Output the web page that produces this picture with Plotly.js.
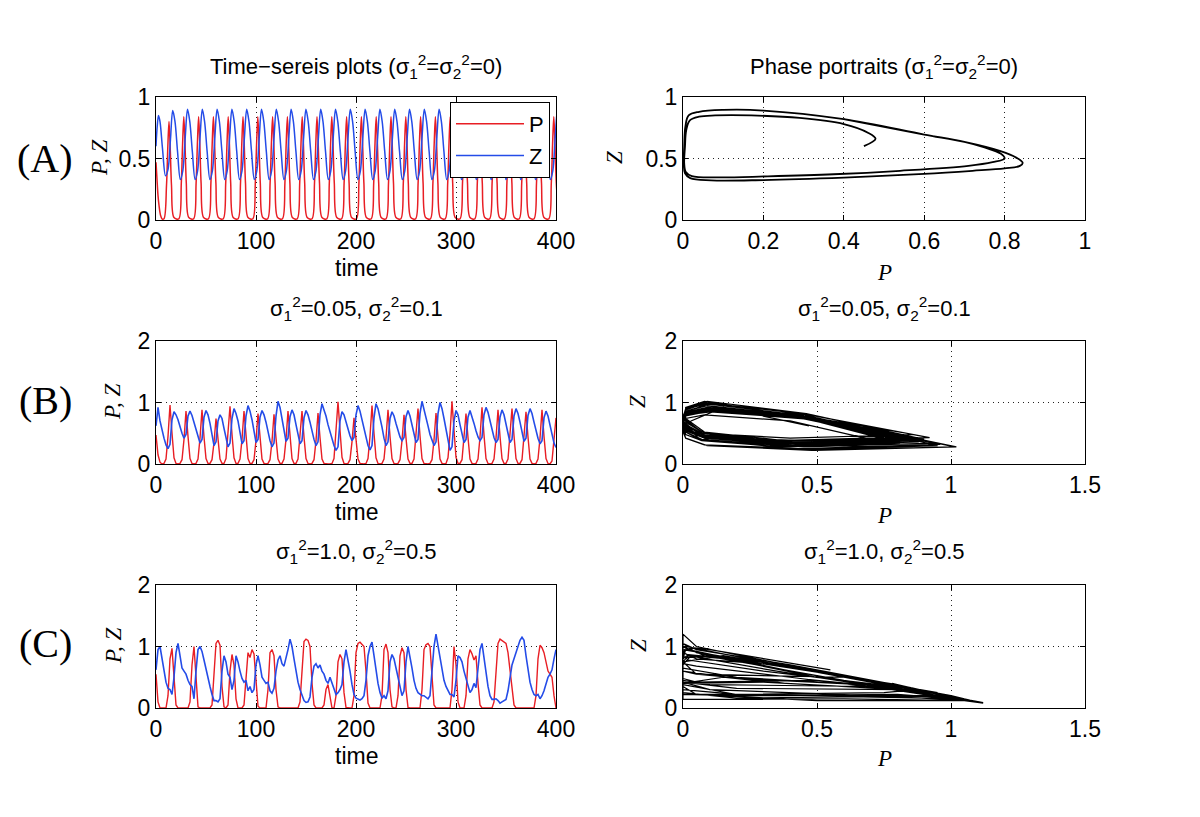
<!DOCTYPE html>
<html><head><meta charset="utf-8">
<script src="https://cdn.plot.ly/plotly-3.0.1.min.js"></script>
<style>html,body{margin:0;padding:0;background:#fff}#chart{width:1200px;height:817px}</style>
</head><body><div id="chart"></div>
<script>
// ---------- Panel A (deterministic) time series ----------
const aTimeP = [0, 1, 2, 3, 4.5, 6,
 8, 10.5, 11.8, 13, 14.2, 15.5, 18,
 22.8, 25.3, 26.6, 27.8, 29, 30.3, 32.8,
 37.6, 40.1, 41.4, 42.6, 43.8, 45.1, 47.6,
 52.4, 54.9, 56.2, 57.4, 58.6, 59.9, 62.4,
 67.2, 69.7, 71, 72.2, 73.4, 74.7, 77.2,
 82, 84.5, 85.8, 87, 88.2, 89.5, 92,
 96.8, 99.3, 100.6, 101.8, 103, 104.3, 106.8,
 111.6, 114.1, 115.4, 116.6, 117.8, 119.1, 121.6,
 126.4, 128.9, 130.2, 131.4, 132.6, 133.9, 136.4,
 141.2, 143.7, 145, 146.2, 147.4, 148.7, 151.2,
 156, 158.5, 159.8, 161, 162.2, 163.5, 166,
 170.8, 173.3, 174.6, 175.8, 177, 178.3, 180.8,
 185.6, 188.1, 189.4, 190.6, 191.8, 193.1, 195.6,
 200.4, 202.9, 204.2, 205.4, 206.6, 207.9, 210.4,
 215.2, 217.7, 219, 220.2, 221.4, 222.7, 225.2,
 230, 232.5, 233.8, 235, 236.2, 237.5, 240,
 244.8, 247.3, 248.6, 249.8, 251, 252.3, 254.8,
 259.6, 262.1, 263.4, 264.6, 265.8, 267.1, 269.6,
 274.4, 276.9, 278.2, 279.4, 280.6, 281.9, 284.4,
 289.2, 291.7, 293, 294.2, 295.4, 296.7, 299.2,
 304, 306.5, 307.8, 309, 310.2, 311.5, 314,
 318.8, 321.3, 322.6, 323.8, 325, 326.3, 328.8,
 333.6, 336.1, 337.4, 338.6, 339.8, 341.1, 343.6,
 348.4, 350.9, 352.2, 353.4, 354.6, 355.9, 358.4,
 363.2, 365.7, 367, 368.2, 369.4, 370.7, 373.2,
 378, 380.5, 381.8, 383, 384.2, 385.5, 388,
 392.8, 395.3, 396.6, 397.8, 399, 400.3, 402.8];
const aValP = [0.47, 0.33, 0.20, 0.12, 0.04, 0.01,
 0.01, 0.28, 0.59, 0.80, 0.59, 0.28, 0.02,
 0.01, 0.30, 0.62, 0.84, 0.62, 0.30, 0.02,
 0.01, 0.30, 0.62, 0.84, 0.62, 0.30, 0.02,
 0.01, 0.30, 0.62, 0.84, 0.62, 0.30, 0.02,
 0.01, 0.30, 0.62, 0.84, 0.62, 0.30, 0.02,
 0.01, 0.30, 0.62, 0.84, 0.62, 0.30, 0.02,
 0.01, 0.30, 0.62, 0.84, 0.62, 0.30, 0.02,
 0.01, 0.30, 0.62, 0.84, 0.62, 0.30, 0.02,
 0.01, 0.30, 0.62, 0.84, 0.62, 0.30, 0.02,
 0.01, 0.30, 0.62, 0.84, 0.62, 0.30, 0.02,
 0.01, 0.30, 0.62, 0.84, 0.62, 0.30, 0.02,
 0.01, 0.30, 0.62, 0.84, 0.62, 0.30, 0.02,
 0.01, 0.30, 0.62, 0.84, 0.62, 0.30, 0.02,
 0.01, 0.30, 0.62, 0.84, 0.62, 0.30, 0.02,
 0.01, 0.30, 0.62, 0.84, 0.62, 0.30, 0.02,
 0.01, 0.30, 0.62, 0.84, 0.62, 0.30, 0.02,
 0.01, 0.30, 0.62, 0.84, 0.62, 0.30, 0.02,
 0.01, 0.30, 0.62, 0.84, 0.62, 0.30, 0.02,
 0.01, 0.30, 0.62, 0.84, 0.62, 0.30, 0.02,
 0.01, 0.30, 0.62, 0.84, 0.62, 0.30, 0.02,
 0.01, 0.30, 0.62, 0.84, 0.62, 0.30, 0.02,
 0.01, 0.30, 0.62, 0.84, 0.62, 0.30, 0.02,
 0.01, 0.30, 0.62, 0.84, 0.62, 0.30, 0.02,
 0.01, 0.30, 0.62, 0.84, 0.62, 0.30, 0.02,
 0.01, 0.30, 0.62, 0.84, 0.62, 0.30, 0.02,
 0.01, 0.30, 0.62, 0.84, 0.62, 0.30, 0.02,
 0.01, 0.30, 0.62, 0.84, 0.62, 0.30, 0.02];
const aTimeZ = [0, 1.2, 2.5, 4, 6.5,
 9.5, 12, 14.5, 16.7, 19, 21.5,
 24.3, 26.8, 29.3, 31.5, 33.8, 36.3,
 39.1, 41.6, 44.1, 46.3, 48.6, 51.1,
 53.9, 56.4, 58.9, 61.1, 63.4, 65.9,
 68.7, 71.2, 73.7, 75.9, 78.2, 80.7,
 83.5, 86, 88.5, 90.7, 93, 95.5,
 98.3, 100.8, 103.3, 105.5, 107.8, 110.3,
 113.1, 115.6, 118.1, 120.3, 122.6, 125.1,
 127.9, 130.4, 132.9, 135.1, 137.4, 139.9,
 142.7, 145.2, 147.7, 149.9, 152.2, 154.7,
 157.5, 160, 162.5, 164.7, 167, 169.5,
 172.3, 174.8, 177.3, 179.5, 181.8, 184.3,
 187.1, 189.6, 192.1, 194.3, 196.6, 199.1,
 201.9, 204.4, 206.9, 209.1, 211.4, 213.9,
 216.7, 219.2, 221.7, 223.9, 226.2, 228.7,
 231.5, 234, 236.5, 238.7, 241, 243.5,
 246.3, 248.8, 251.3, 253.5, 255.8, 258.3,
 261.1, 263.6, 266.1, 268.3, 270.6, 273.1,
 275.9, 278.4, 280.9, 283.1, 285.4, 287.9,
 290.7, 293.2, 295.7, 297.9, 300.2, 302.7,
 305.5, 308, 310.5, 312.7, 315, 317.5,
 320.3, 322.8, 325.3, 327.5, 329.8, 332.3,
 335.1, 337.6, 340.1, 342.3, 344.6, 347.1,
 349.9, 352.4, 354.9, 357.1, 359.4, 361.9,
 364.7, 367.2, 369.7, 371.9, 374.2, 376.7,
 379.5, 382, 384.5, 386.7, 389, 391.5,
 394.3, 396.8, 399.3, 401.5, 403.8, 406.3];
const aValZ = [0.60, 0.76, 0.85, 0.80, 0.58,
 0.36, 0.41, 0.66, 0.89, 0.80, 0.56,
 0.33, 0.40, 0.68, 0.90, 0.80, 0.56,
 0.33, 0.40, 0.68, 0.90, 0.80, 0.56,
 0.33, 0.40, 0.68, 0.90, 0.80, 0.56,
 0.33, 0.40, 0.68, 0.90, 0.80, 0.56,
 0.33, 0.40, 0.68, 0.90, 0.80, 0.56,
 0.33, 0.40, 0.68, 0.90, 0.80, 0.56,
 0.33, 0.40, 0.68, 0.90, 0.80, 0.56,
 0.33, 0.40, 0.68, 0.90, 0.80, 0.56,
 0.33, 0.40, 0.68, 0.90, 0.80, 0.56,
 0.33, 0.40, 0.68, 0.90, 0.80, 0.56,
 0.33, 0.40, 0.68, 0.90, 0.80, 0.56,
 0.33, 0.40, 0.68, 0.90, 0.80, 0.56,
 0.33, 0.40, 0.68, 0.90, 0.80, 0.56,
 0.33, 0.40, 0.68, 0.90, 0.80, 0.56,
 0.33, 0.40, 0.68, 0.90, 0.80, 0.56,
 0.33, 0.40, 0.68, 0.90, 0.80, 0.56,
 0.33, 0.40, 0.68, 0.90, 0.80, 0.56,
 0.33, 0.40, 0.68, 0.90, 0.80, 0.56,
 0.33, 0.40, 0.68, 0.90, 0.80, 0.56,
 0.33, 0.40, 0.68, 0.90, 0.80, 0.56,
 0.33, 0.40, 0.68, 0.90, 0.80, 0.56,
 0.33, 0.40, 0.68, 0.90, 0.80, 0.56,
 0.33, 0.40, 0.68, 0.90, 0.80, 0.56,
 0.33, 0.40, 0.68, 0.90, 0.80, 0.56,
 0.33, 0.40, 0.68, 0.90, 0.80, 0.56,
 0.33, 0.40, 0.68, 0.90, 0.80, 0.56];

// ---------- Panel A phase portrait (traced) ----------
const aPhaseP = [0.45, 0.479, 0.46, 0.40, 0.29, 0.17, 0.08, 0.04, 0.017, 0.008, 0.005, 0.003, 0.007, 0.022, 0.085, 0.21, 0.375, 0.54, 0.71, 0.77, 0.80, 0.79, 0.75, 0.70, 0.60, 0.40, 0.20, 0.10, 0.04, 0.014, 0.006, 0.003, 0.002, 0.005, 0.018, 0.07, 0.20, 0.40, 0.60, 0.72, 0.80, 0.838, 0.845, 0.83, 0.79, 0.70, 0.60, 0.40];
const aPhaseZ = [0.60, 0.66, 0.71, 0.78, 0.83, 0.85, 0.85, 0.84, 0.81, 0.73, 0.60, 0.46, 0.39, 0.357, 0.346, 0.355, 0.372, 0.40, 0.44, 0.47, 0.50, 0.54, 0.59, 0.635, 0.695, 0.82, 0.89, 0.895, 0.88, 0.85, 0.76, 0.60, 0.45, 0.38, 0.34, 0.322, 0.325, 0.345, 0.375, 0.40, 0.42, 0.44, 0.465, 0.505, 0.56, 0.635, 0.695, 0.82];

// ---------- Panel B (sigma1^2=0.05, sigma2^2=0.1), samples every 2 time units from t=0 ----------
const bP = [0.47,0.15,0.03,0.0,0.01,0.08,0.45,0.96,0.50,0.10,
 0.01,0.0,0.01,0.07,0.40,0.86,0.45,0.09,0.01,0.0,
 0.01,0.08,0.42,0.88,0.44,0.09,0.01,0.01,0.07,0.35,
 0.74,0.40,0.08,0.01,0.01,0.09,0.45,0.94,0.48,0.10,
 0.01,0.01,0.08,0.40,0.86,0.45,0.09,0.01,0.01,0.07,
 0.38,0.82,0.42,0.08,0.01,0.0,0.01,0.07,0.37,0.81,
 0.42,0.08,0.01,0.01,0.08,0.40,0.86,0.45,0.09,0.01,
 0.01,0.08,0.41,0.86,0.44,0.09,0.01,0.0,0.01,0.07,
 0.38,0.83,0.43,0.08,0.01,0.0,0.0,0.0,0.01,0.09,
 0.48,1.01,0.55,0.11,0.01,0.0,0.01,0.07,0.36,0.75,
 0.40,0.08,0.01,0.0,0.0,0.01,0.09,0.45,0.95,0.50,
 0.10,0.01,0.0,0.01,0.08,0.42,0.88,0.45,0.09,0.01,
 0.0,0.01,0.07,0.38,0.80,0.42,0.08,0.01,0.01,0.08,
 0.43,0.90,0.46,0.09,0.01,0.0,0.0,0.01,0.07,0.39,
 0.83,0.44,0.08,0.01,0.0,0.01,0.10,0.49,1.02,0.55,
 0.11,0.01,0.01,0.07,0.39,0.82,0.43,0.08,0.01,0.0,
 0.01,0.08,0.44,0.92,0.47,0.09,0.01,0.0,0.01,0.08,
 0.42,0.88,0.45,0.09,0.01,0.01,0.08,0.43,0.90,0.46,
 0.09,0.01,0.01,0.07,0.40,0.85,0.44,0.08,0.01,0.0,
 0.01,0.08,0.42,0.88,0.45,0.09,0.01,0.0,0.05,0.35,
 0.75];
const bZ = [0.62,0.92,0.70,0.55,0.42,0.31,0.25,0.32,0.72,0.85,
 0.80,0.72,0.60,0.50,0.42,0.48,0.78,0.86,0.79,0.68,
 0.55,0.42,0.34,0.40,0.76,0.87,0.80,0.66,0.45,0.30,
 0.36,0.70,0.80,0.74,0.58,0.42,0.28,0.34,0.74,0.90,
 0.82,0.70,0.50,0.33,0.38,0.78,0.95,0.86,0.72,0.52,
 0.35,0.40,0.76,0.87,0.80,0.68,0.52,0.38,0.28,0.34,
 0.78,1.02,0.92,0.74,0.52,0.37,0.42,0.77,0.88,0.80,
 0.64,0.46,0.33,0.38,0.75,0.87,0.80,0.68,0.52,0.40,
 0.30,0.36,0.80,0.98,0.88,0.78,0.64,0.52,0.42,0.30,
 0.22,0.28,0.70,0.85,0.80,0.68,0.56,0.46,0.38,0.43,
 0.80,0.95,0.86,0.72,0.56,0.42,0.30,0.23,0.30,0.75,
 0.98,0.90,0.76,0.60,0.42,0.30,0.36,0.74,0.85,0.78,
 0.66,0.54,0.44,0.38,0.43,0.77,0.87,0.78,0.62,0.46,
 0.35,0.40,0.82,1.02,0.90,0.76,0.62,0.48,0.38,0.30,
 0.36,0.82,1.00,0.90,0.74,0.56,0.38,0.22,0.28,0.70,
 0.87,0.80,0.64,0.48,0.35,0.40,0.76,0.87,0.78,0.66,
 0.54,0.44,0.38,0.43,0.80,0.92,0.84,0.70,0.56,0.43,
 0.35,0.40,0.76,0.88,0.80,0.64,0.48,0.35,0.40,0.78,
 0.90,0.82,0.68,0.52,0.37,0.42,0.79,0.90,0.82,0.68,
 0.54,0.42,0.33,0.38,0.75,0.86,0.78,0.62,0.46,0.34,
 0.27];

// ---------- Panel C (sigma1^2=1.0, sigma2^2=0.5), samples every 2 time units from t=0 ----------
const cP = [0.55,0.10,0.0,0.0,0.0,0.0,0.20,0.80,0.97,0.50,
 0.05,0.0,0.0,0.0,0.0,0.0,0.0,0.10,0.70,1.00,
 0.40,0.02,0.0,0.0,0.0,0.0,0.0,0.0,0.05,0.50,
 1.05,1.10,1.02,0.35,0.02,0.0,0.05,0.60,0.87,0.70,
 0.15,0.0,0.0,0.0,0.05,0.50,0.90,0.82,0.95,0.88,
 0.40,0.03,0.0,0.0,0.0,0.0,0.30,0.90,0.95,0.85,
 0.30,0.02,0.0,0.0,0.0,0.0,0.0,0.0,0.0,0.0,
 0.0,0.0,0.10,0.70,1.08,1.12,1.10,1.00,0.40,0.05,
 0.0,0.0,0.0,0.0,0.05,0.30,0.38,0.15,0.0,0.0,
 0.20,0.75,0.87,0.80,0.25,0.01,0.0,0.0,0.0,0.20,
 0.90,1.05,1.07,1.04,1.00,0.60,0.08,0.0,0.0,0.0,
 0.0,0.0,0.0,0.20,0.95,1.04,0.90,0.30,0.02,0.0,
 0.0,0.20,0.85,0.98,0.90,0.30,0.01,0.0,0.0,0.0,
 0.0,0.0,0.0,0.30,0.95,1.03,1.05,1.00,0.50,0.05,
 0.0,0.0,0.0,0.0,0.0,0.0,0.0,0.0,0.30,1.00,
 0.70,0.10,0.0,0.0,0.0,0.20,0.80,0.95,0.88,0.78,
 0.85,0.40,0.05,0.0,0.0,0.0,0.0,0.0,0.0,0.10,
 0.60,1.05,1.12,1.10,1.08,1.05,0.90,0.60,0.35,0.05,
 0.0,0.0,0.0,0.0,0.0,0.0,0.0,0.0,0.0,0.0,
 0.20,0.80,1.02,0.98,0.90,0.75,0.60,0.55,0.50,0.20,
 0.0];
const cZ = [0.62,0.95,1.00,0.80,0.60,0.42,0.32,0.30,0.22,0.50,
 0.90,1.05,0.85,0.65,0.60,0.55,0.45,0.38,0.35,0.15,
 0.60,0.95,1.00,0.92,0.78,0.62,0.50,0.35,0.22,0.12,
 0.12,0.10,0.15,0.60,0.85,0.75,0.55,0.50,0.30,0.45,
 0.85,0.75,0.60,0.48,0.42,0.45,0.28,0.35,0.25,0.30,
 0.70,0.85,0.70,0.50,0.45,0.40,0.42,0.28,0.24,0.32,
 0.60,0.78,0.85,0.72,0.68,0.80,0.95,1.12,1.00,0.80,
 0.60,0.42,0.30,0.20,0.12,0.09,0.10,0.18,0.50,0.68,
 0.72,0.65,0.70,0.60,0.55,0.45,0.40,0.50,0.40,0.30,
 0.22,0.25,0.30,0.38,0.75,0.95,0.80,0.60,0.38,0.22,
 0.16,0.15,0.13,0.15,0.20,0.45,0.85,1.00,1.07,0.85,
 0.60,0.40,0.25,0.16,0.20,0.15,0.28,0.75,0.87,0.80,
 0.65,0.50,0.33,0.20,0.28,0.75,1.00,0.85,0.65,0.45,
 0.32,0.25,0.22,0.20,0.20,0.17,0.15,0.20,0.60,1.00,
 1.20,1.00,0.80,0.60,0.45,0.35,0.28,0.22,0.22,0.18,
 0.45,0.85,0.82,0.75,0.60,0.48,0.35,0.25,0.30,0.40,
 0.33,0.70,0.95,1.05,0.80,0.55,0.35,0.20,0.14,0.14,
 0.15,0.12,0.08,0.10,0.12,0.14,0.28,0.50,0.70,0.80,
 0.90,1.00,1.10,1.15,1.10,0.85,0.60,0.42,0.30,0.22,
 0.20,0.22,0.15,0.20,0.28,0.38,0.50,0.55,0.62,0.80,
 0.95];

// ---------- tick values ----------
const timeTicks = [0, 100, 200, 300, 400];
const unitTicks = [0, 0.5, 1];
const twoTicks = [0, 1, 2];
const phaseATicks = [0, 0.2, 0.4, 0.6, 0.8, 1];
const phaseBCTicks = [0, 0.5, 1, 1.5];

// ---------- styling / layout ----------
const W = 1200, H = 817;
const RED = 'rgb(232,30,36)', BLUE = 'rgb(36,76,232)';
const SANS = 'Liberation Sans, Arial, Helvetica, sans-serif';
const SERIF = 'Liberation Serif, Times New Roman, serif';
const fx = p => p / W, fy = p => 1 - p / H;

const xL = [fx(156), fx(556)], xR = [fx(683), fx(1085)];
const yA = [fy(220), fy(97)], yB = [fy(464), fy(341)], yC = [fy(708), fy(585)];

function axis(domain, range, tickvals, anchor) {
  return {
    domain: domain, range: range, tickvals: tickvals, anchor: anchor,
    showline: true, linecolor: '#000', linewidth: 1, mirror: 'ticks',
    ticks: 'inside', ticklen: 5, tickwidth: 1, tickcolor: '#000',
    showgrid: true, gridcolor: '#222', gridwidth: 1, griddash: '1px,4px',
    zeroline: false, fixedrange: true,
    tickfont: {family: SANS, size: 23, color: '#000'}
  };
}

const traces = [
  {x: aTimeP, y: aValP, xaxis: 'x', yaxis: 'y', type: 'scatter', mode: 'lines', name: 'P',
   line: {color: RED, width: 1.5, shape: 'spline', smoothing: 0.9}},
  {x: aTimeZ, y: aValZ, xaxis: 'x', yaxis: 'y', type: 'scatter', mode: 'lines', name: 'Z',
   line: {color: BLUE, width: 1.5, shape: 'spline', smoothing: 0.9}},
  {x: aPhaseP, y: aPhaseZ, xaxis: 'x2', yaxis: 'y2', type: 'scatter', mode: 'lines', showlegend: false,
   line: {color: '#000', width: 1.8, shape: 'spline', smoothing: 1}},
  {x0: 0, dx: 2, y: bP, xaxis: 'x3', yaxis: 'y3', type: 'scatter', mode: 'lines', showlegend: false,
   line: {color: RED, width: 1.4}},
  {x0: 0, dx: 2, y: bZ, xaxis: 'x3', yaxis: 'y3', type: 'scatter', mode: 'lines', showlegend: false,
   line: {color: BLUE, width: 1.6}},
  {x: bP, y: bZ, xaxis: 'x4', yaxis: 'y4', type: 'scatter', mode: 'lines', showlegend: false,
   line: {color: '#000', width: 1.2}},
  {x0: 0, dx: 2, y: cP, xaxis: 'x5', yaxis: 'y5', type: 'scatter', mode: 'lines', showlegend: false,
   line: {color: RED, width: 1.4}},
  {x0: 0, dx: 2, y: cZ, xaxis: 'x5', yaxis: 'y5', type: 'scatter', mode: 'lines', showlegend: false,
   line: {color: BLUE, width: 1.6}},
  {x: cP, y: cZ, xaxis: 'x6', yaxis: 'y6', type: 'scatter', mode: 'lines', showlegend: false,
   line: {color: '#000', width: 1.2}}
];

function ann(text, x, y, opts) {
  return Object.assign({text: text, x: fx(x), y: fy(y), xref: 'paper', yref: 'paper',
    showarrow: false, xanchor: 'center', yanchor: 'middle',
    font: {family: SANS, size: 22, color: '#000'}}, opts || {});
}
const s1 = 'σ<sub>1</sub><sup>2</sup>', s2 = 'σ<sub>2</sub><sup>2</sup>';
const italic = {family: SERIF, size: 23, color: '#000'};
const big = {family: SERIF, size: 40, color: '#000'};
const annotations = [
  ann('Time−sereis plots (' + s1 + '=' + s2 + '=0)', 356, 66),
  ann('Phase portraits (' + s1 + '=' + s2 + '=0)', 884, 66),
  ann(s1 + '=0.05, ' + s2 + '=0.1', 356, 308),
  ann(s1 + '=0.05, ' + s2 + '=0.1', 884, 308),
  ann(s1 + '=1.0, ' + s2 + '=0.5', 356, 551),
  ann(s1 + '=1.0, ' + s2 + '=0.5', 884, 551),
  ann('time', 356, 268, {font: {family: SANS, size: 23, color: '#000'}}),
  ann('time', 356, 512, {font: {family: SANS, size: 23, color: '#000'}}),
  ann('time', 356, 756, {font: {family: SANS, size: 23, color: '#000'}}),
  ann('<i>P</i>', 884, 272, {font: italic}),
  ann('<i>P</i>', 884, 515, {font: italic}),
  ann('<i>P</i>', 884, 758, {font: italic}),
  ann('<i>P, Z</i>', 99, 158, {font: italic, textangle: -90}),
  ann('<i>P, Z</i>', 113, 402, {font: italic, textangle: -90}),
  ann('<i>P, Z</i>', 113, 646, {font: italic, textangle: -90}),
  ann('<i>Z</i>', 614, 158, {font: italic, textangle: -90}),
  ann('<i>Z</i>', 638, 402, {font: italic, textangle: -90}),
  ann('<i>Z</i>', 638, 646, {font: italic, textangle: -90}),
  ann('(A)', 45, 158, {font: big}),
  ann('(B)', 45, 400, {font: big}),
  ann('(C)', 45, 643, {font: big})
];

const layout = {
  width: W, height: H, margin: {l: 0, r: 0, t: 0, b: 0},
  paper_bgcolor: '#fff', plot_bgcolor: '#fff',
  showlegend: true,
  legend: {x: fx(550), y: fy(102), xanchor: 'right', yanchor: 'top',
    bgcolor: '#fff', bordercolor: '#000', borderwidth: 1, itemwidth: 68,
    font: {family: SANS, size: 22, color: '#000'}},
  xaxis: axis(xL, [0, 400], timeTicks, 'y'),
  yaxis: axis(yA, [0, 1], unitTicks, 'x'),
  xaxis2: axis(xR, [0, 1], phaseATicks, 'y2'),
  yaxis2: axis(yA, [0, 1], unitTicks, 'x2'),
  xaxis3: axis(xL, [0, 400], timeTicks, 'y3'),
  yaxis3: axis(yB, [0, 2], twoTicks, 'x3'),
  xaxis4: axis(xR, [0, 1.5], phaseBCTicks, 'y4'),
  yaxis4: axis(yB, [0, 2], twoTicks, 'x4'),
  xaxis5: axis(xL, [0, 400], timeTicks, 'y5'),
  yaxis5: axis(yC, [0, 2], twoTicks, 'x5'),
  xaxis6: axis(xR, [0, 1.5], phaseBCTicks, 'y6'),
  yaxis6: axis(yC, [0, 2], twoTicks, 'x6'),
  annotations: annotations
};

Plotly.newPlot('chart', traces, layout, {staticPlot: true, displayModeBar: false});
</script></body></html>
